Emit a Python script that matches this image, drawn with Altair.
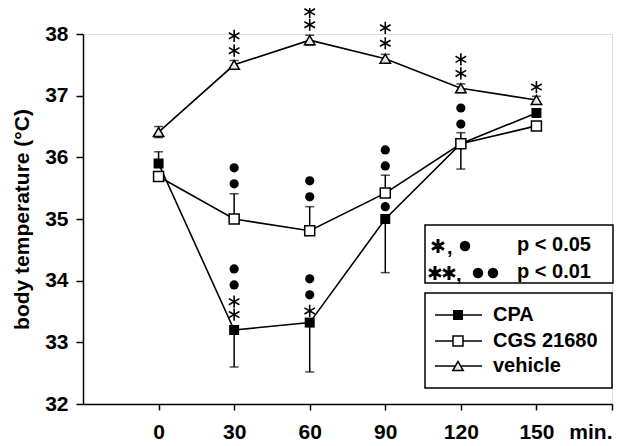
import altair as alt
import pandas as pd

minutes = [0, 30, 60, 90, 120, 150]

cpa = [35.90, 33.20, 33.32, 35.00, 36.22, 36.72]
cpa_lo = [35.90, 32.60, 32.52, 34.13, 35.81, 36.66]
cpa_hi = [36.09, 33.20, 33.32, 35.00, 36.22, 36.78]

cgs = [35.69, 35.00, 34.81, 35.42, 36.22, 36.51]
cgs_lo = [35.69, 35.00, 34.81, 35.42, 36.22, 36.46]
cgs_hi = [35.69, 35.41, 35.20, 35.71, 36.40, 36.51]

veh = [36.41, 37.50, 37.90, 37.60, 37.12, 36.93]
veh_lo = [36.32, 37.43, 37.82, 37.53, 37.05, 36.88]
veh_hi = [36.50, 37.57, 37.98, 37.67, 37.19, 36.99]

star_min = [30, 30, 60, 60, 90, 90, 120, 120, 150, 30, 30, 60]
star_val = [37.97, 37.73, 38.36, 38.15, 38.10, 37.85, 37.59, 37.36, 37.14, 33.66, 33.45, 33.51]

dot_min = [30, 30, 60, 60, 90, 90, 120, 120, 30, 30, 60, 60, 90]
dot_val = [35.83, 35.57, 35.62, 35.36, 36.12, 35.86, 36.80, 36.54, 34.19, 33.93, 34.03, 33.77, 35.20]

series_names = ["CPA", "CGS 21680", "vehicle"]
pvals = ["p < 0.05", "p < 0.01"]

FONT = "Liberation Sans"
STAR = "M0,-1L0,1M-0.866,-0.5L0.866,0.5M-0.866,0.5L0.866,-0.5"

rows = []
for name, m, lo, hi in [("CPA", cpa, cpa_lo, cpa_hi), ("CGS", cgs, cgs_lo, cgs_hi), ("veh", veh, veh_lo, veh_hi)]:
    for i, t in enumerate(minutes):
        rows.append({"series": name, "minute": t, "temp": m[i], "lo": lo[i], "hi": hi[i]})
df = pd.DataFrame(rows)

caps = []
for r in rows:
    if r["lo"] < r["temp"]:
        caps.append({"series": r["series"], "minute": r["minute"], "cap": r["lo"]})
    if r["hi"] > r["temp"]:
        caps.append({"series": r["series"], "minute": r["minute"], "cap": r["hi"]})
caps_df = pd.DataFrame(caps)

stars_df = pd.DataFrame({"minute": star_min, "temp": star_val})
dots_df = pd.DataFrame({"minute": dot_min, "temp": dot_val})

xscale = alt.Scale(domain=[-30, 180], nice=False, zero=False)
yscale = alt.Scale(domain=[32, 38], nice=False, zero=False)

xenc = alt.X("minute:Q", scale=xscale,
             axis=alt.Axis(values=[0, 30, 60, 90, 120, 150, 180],
                           labelExpr="datum.value == 180 ? 'min.' : datum.label",
                           title=None, grid=False, tickSize=6, labelPadding=11,
                           labelFontSize=21, labelFont=FONT, labelFontWeight="bold",
                           labelColor="black", domainColor="black", tickColor="black",
                           domainWidth=1.5, tickWidth=1.5))
yenc = alt.Y("temp:Q", scale=yscale,
             axis=alt.Axis(values=[32, 33, 34, 35, 36, 37, 38], format="d",
                           title="body temperature (°C)",
                           grid=False, tickSize=7, labelPadding=8,
                           labelFontSize=21, labelFont=FONT, labelFontWeight="bold",
                           labelColor="black", domainColor="black", tickColor="black",
                           domainWidth=1.5, tickWidth=1.5,
                           titleFont=FONT, titleFontSize=21, titleFontWeight="bold",
                           titleColor="black", titlePadding=12))

base = alt.Chart(df)

lines = base.mark_line(color="black", strokeWidth=1.6).encode(
    x=xenc, y=yenc, detail="series:N")

bars = base.mark_rule(color="black", strokeWidth=1.5).encode(
    x=alt.X("minute:Q", scale=xscale),
    y=alt.Y("lo:Q", scale=yscale), y2="hi:Q")

capmark = alt.Chart(caps_df).mark_tick(color="black", thickness=1.5, size=9, orient="horizontal").encode(
    x=alt.X("minute:Q", scale=xscale),
    y=alt.Y("cap:Q", scale=yscale))

cpa_pts = base.transform_filter("datum.series == 'CPA'").mark_point(
    shape="square", filled=True, fill="black", color="black", size=100, opacity=1).encode(x=xenc, y=yenc)
cgs_pts = base.transform_filter("datum.series == 'CGS'").mark_point(
    shape="square", filled=True, fill="white", stroke="black", strokeWidth=1.5, size=100, opacity=1).encode(x=xenc, y=yenc)
veh_pts = base.transform_filter("datum.series == 'veh'").mark_point(
    shape="triangle-up", filled=True, fill="#e8e8e8", stroke="black", strokeWidth=1.5, size=110, opacity=1).encode(x=xenc, y=yenc)

stars = alt.Chart(stars_df).mark_point(shape=STAR, filled=False, stroke="black", strokeWidth=1.6, size=150, opacity=1).encode(
    x=alt.X("minute:Q", scale=xscale),
    y=alt.Y("temp:Q", scale=yscale))
dots = alt.Chart(dots_df).mark_circle(color="black", size=85, opacity=1).encode(
    x=alt.X("minute:Q", scale=xscale),
    y=alt.Y("temp:Q", scale=yscale))

one = pd.DataFrame({"k": [0]})
ob = alt.Chart(one)

def box(x1, x2, y1, y2):
    return ob.mark_rect(fill="white", stroke="black", strokeWidth=1.5).encode(
        x=alt.value(x1), x2=alt.value(x2), y=alt.value(y1), y2=alt.value(y2))

legend_layers = [box(342, 530, 191, 249), box(342, 529, 259, 354)]

def pstar(x, y):
    return ob.mark_point(shape=STAR, filled=False, stroke="black", strokeWidth=3, size=190, opacity=1).encode(
        x=alt.value(x), y=alt.value(y))

def pdot(x, y):
    return ob.mark_circle(color="black", size=110, opacity=1).encode(x=alt.value(x), y=alt.value(y))

def txt(s, x, y, size=20):
    return ob.mark_text(text=s, align="left", baseline="middle", font=FONT, fontSize=size,
                        fontWeight="bold", color="black").encode(x=alt.value(x), y=alt.value(y))

legend_layers += [
    pstar(355, 212), txt(",", 364, 214), pdot(382, 212), txt(pvals[0], 434, 211),
    pstar(352, 239), pstar(366, 239), txt(",", 373, 241), pdot(395, 239), pdot(410, 239), txt(pvals[1], 434, 238),
]

ly = [281, 307, 332]
for i, nm in enumerate(series_names):
    legend_layers.append(ob.mark_rule(color="black", strokeWidth=1.6).encode(
        x=alt.value(352), x2=alt.value(399), y=alt.value(ly[i])))
legend_layers.append(ob.mark_point(shape="square", filled=True, fill="black", color="black", size=100, opacity=1).encode(
    x=alt.value(375), y=alt.value(ly[0])))
legend_layers.append(ob.mark_point(shape="square", filled=True, fill="white", stroke="black", strokeWidth=1.5, size=100, opacity=1).encode(
    x=alt.value(375), y=alt.value(ly[1])))
legend_layers.append(ob.mark_point(shape="triangle-up", filled=True, fill="#e8e8e8", stroke="black", strokeWidth=1.5, size=110, opacity=1).encode(
    x=alt.value(375), y=alt.value(ly[2])))
for i, nm in enumerate(series_names):
    legend_layers.append(txt(nm, 410, ly[i], 20))

chart = alt.layer(lines, bars, capmark, cpa_pts, cgs_pts, veh_pts, stars, dots, *legend_layers).properties(
    width=529, height=370,
    autosize=alt.AutoSizeParams(type="none"),
    padding={"left": 75, "top": 26, "right": 20, "bottom": 40},
).configure_view(stroke=None).configure(background="white")

chart.save("out.html", embed_options={"renderer": "svg", "actions": False})
